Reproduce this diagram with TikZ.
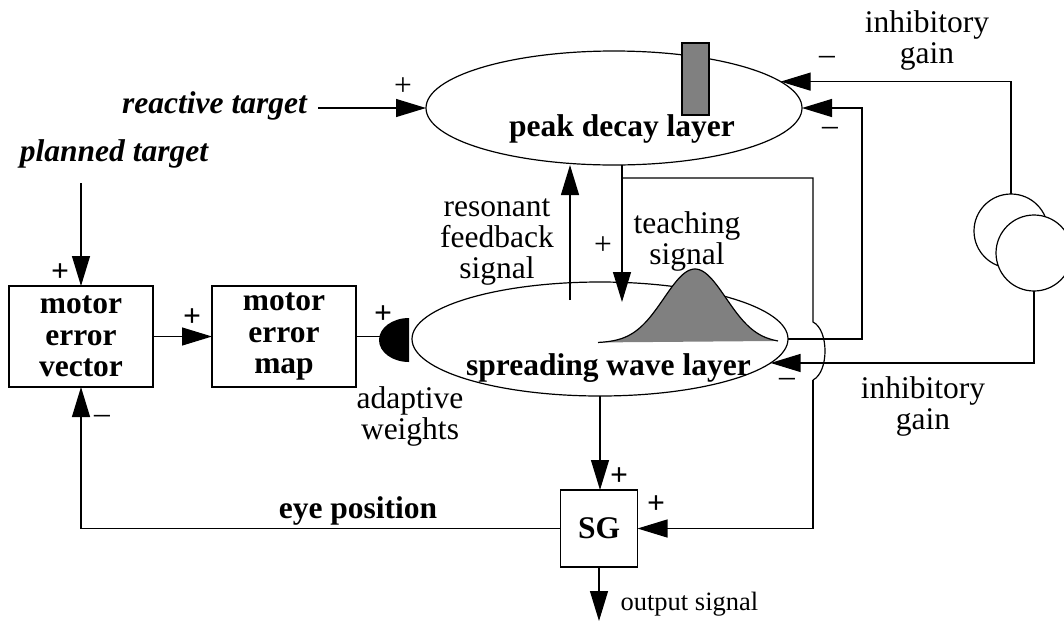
\documentclass[tikz,border=0pt]{standalone}
\usepackage{fontspec}
\setmainfont{Liberation Serif}
\usetikzlibrary{arrows.meta,shapes.geometric}
\definecolor{markgray}{RGB}{128,128,128}
\begin{document}
\begin{tikzpicture}[x=1pt,y=-1pt,line width=1.2pt,
  arr/.style={-{Triangle[length=30pt,width=18pt]}},
  layer/.style={ellipse,draw,minimum width=376pt,minimum height=114pt,inner sep=0pt,outer sep=0pt},
  box/.style={draw,minimum width=144pt,minimum height=101pt,inner sep=0pt,outer sep=0pt,
    align=center,font=\bfseries\fontsize{31.5}{31.5}\selectfont},
  ring/.style={circle,draw,fill=white,minimum size=74pt,inner sep=0pt,outer sep=0pt},
  lbl/.style={inner sep=0pt,align=center,font=\fontsize{31.5}{31}\selectfont},
  blbl/.style={inner sep=0pt,font=\bfseries\fontsize{31.5}{31}\selectfont},
  bilbl/.style={inner sep=0pt,font=\bfseries\itshape\fontsize{31.5}{31}\selectfont},
  sgn/.style={inner sep=0pt,font=\fontsize{31.5}{31}\selectfont},
  bsgn/.style={inner sep=0pt,font=\bfseries\fontsize{31.5}{31}\selectfont}]
\useasboundingbox (0,0) rectangle (1064,622);

% the two layers
\node[layer] (pk) at (614,108) {};
\node[layer] (sw) at (600,339) {};

% activity peak marker and travelling wave profile
\node[draw,fill=markgray,minimum width=27pt,minimum height=72pt,inner sep=0pt] (bar) at (695.5,79) {};
\fill[markgray] plot[domain=598:778,samples=90] (\x,{343-74*exp(-((\x-695)^2)/1922)}) -- cycle;
\draw plot[domain=598:778,samples=90] (\x,{343-74*exp(-((\x-695)^2)/1922)});

\node[blbl,anchor=base] (pkt) at (622,136) {peak decay layer};
\node[blbl,anchor=base] (swt) at (608.5,375) {spreading wave layer};

% blocks
\node[box] (mev) at (81,336.5) {motor\\error\\vector};
\node[box] (mem) at (284,336.5) {motor\\error\\map};
\node[box,minimum width=77pt,minimum height=77pt] (sg) at (599,528.5) {SG};

% gain units
\node[ring] (c1) at (1011,231) {};
\node[ring,minimum size=76pt] (c2) at (1034,253) {};

% adaptive weights synapse
\fill (409,362) arc[start angle=90,end angle=270,x radius=30,y radius=22] -- cycle;
\coordinate (aw) at (380,336.5);

% free ends
\coordinate (rtEnd) at (318,108);
\coordinate (ptEnd) at (81,183);
\coordinate (tsTop) at (622,165);
\coordinate (tsBr) at (622,178);
\coordinate (tsTip) at (622,302);
\coordinate (rfFoot) at (570,300);
\coordinate (hopA) at (813,322);
\coordinate (hopB) at (813,380);
\coordinate (out) at (599,621);

% connectors
\draw[arr] (rtEnd) -- (pk.west);
\draw[arr] (ptEnd) -- (mev.north);
\draw[arr] (mev.east) -- (mem.west);
\draw (mem.east) -- (aw);
\draw[arr] (rfFoot) -- (rfFoot |- pk.south);
\draw[arr] (tsTop) -- (tsTip);
\draw (tsBr) -| (hopA) .. controls (829,330) and (829,372) .. (hopB);
\draw[arr] (hopB) |- (sg.east);
\draw[arr] (sw.east) -- ++(74,0) |- (pk.east);
\draw[arr] (c1.north) |- (pk.9.7);
\draw[arr] (c2.south) |- (sw.-8);
\draw[arr] (sw.south) -- (sw.south |- sg.north);
\draw[arr] (sg.south) -- (out);
\draw[arr] (sg.west) -| (mev.south);

% labels
\node[bilbl,anchor=base] (rt) at (214.5,113) {reactive target};
\node[bilbl,anchor=base] (pt) at (114,161) {planned target};
\node[lbl] (inh1) at (927,40) {inhibitory\\gain};
\node[lbl] (inh2) at (923,406) {inhibitory\\gain};
\node[lbl] (teach) at (687,241) {teaching\\signal};
\node[lbl] (reson) at (497,242) {resonant\\feedback\\signal};
\node[lbl] (adapt) at (410,416) {adaptive\\weights};
\node[blbl,anchor=base] (eye) at (358,518) {eye position};
\node[inner sep=0pt,anchor=base west,font=\fontsize{26.5}{27}\selectfont] (outl) at (620,610) {output signal};

% signs
\node[sgn] (p1) at (403,87) {+};
\node[sgn] (p2) at (603,246) {+};
\node[bsgn] (p3) at (60,273) {+};
\node[bsgn] (p4) at (192,318) {+};
\node[bsgn] (p5) at (383,315) {+};
\node[bsgn] (p6) at (619,477) {+};
\node[bsgn] (p7) at (656,505) {+};
\node[sgn,anchor=base] (m1) at (827,64) {\textendash};
\node[sgn,anchor=base] (m2) at (830,135) {\textendash};
\node[sgn,anchor=base] (m3) at (787,386) {\textendash};
\node[sgn,anchor=base] (m4) at (102,423) {\textendash};
\end{tikzpicture}
\end{document}
